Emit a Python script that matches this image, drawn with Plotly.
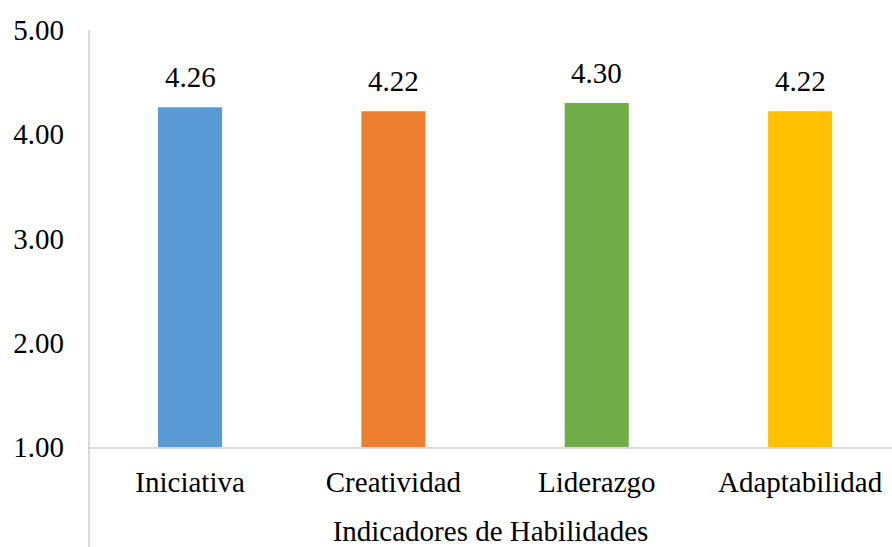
import plotly.graph_objects as go

categories = ["Iniciativa", "Creatividad", "Liderazgo", "Adaptabilidad"]
values = [4.26, 4.22, 4.30, 4.22]
colors = ["#5B9BD5", "#ED7D31", "#70AD47", "#FFC000"]
y_ticks = [1, 2, 3, 4, 5]
x_title = "Indicadores de Habilidades"

FONT = "Liberation Serif"
FS = 29

fig = go.Figure()
fig.add_trace(go.Bar(
    x=list(range(len(categories))),
    y=[v - 1 for v in values],
    base=1,
    width=0.315,
    marker=dict(color=colors, line=dict(width=0)),
    hoverinfo="skip",
))

for i, v in enumerate(values):
    fig.add_annotation(x=i, y=v, text=f"{v:.2f}", showarrow=False,
                       yanchor="bottom", yshift=12,
                       font=dict(family=FONT, size=FS, color="#000000"))

# vertical axis line extending below plot area
fig.add_shape(type="line", xref="paper", yref="paper", x0=0, x1=0, y0=-0.245, y1=1,
              line=dict(color="#D9D9D9", width=2))

fig.update_layout(
    width=892, height=547,
    margin=dict(l=89, r=0, t=30, b=100),
    paper_bgcolor="white", plot_bgcolor="white",
    showlegend=False,
    font=dict(family=FONT, size=FS, color="#000000"),
    xaxis=dict(
        range=[-0.497, 3.452],
        tickmode="array", tickvals=list(range(len(categories))), ticktext=categories,
        showline=True, linecolor="#D9D9D9", linewidth=2,
        showgrid=False, zeroline=False, ticks="",
        ticklabelstandoff=8,
        title=dict(text=x_title, standoff=26, font=dict(family=FONT, size=FS, color="#000000")),
        tickfont=dict(family=FONT, size=FS, color="#000000"),
    ),
    yaxis=dict(
        range=[1, 5],
        tickmode="array", tickvals=y_ticks, ticktext=[f"{t:.2f}" for t in y_ticks],
        showline=False, showgrid=False, zeroline=False, ticks="",
        ticklabelstandoff=24,
        tickfont=dict(family=FONT, size=FS, color="#000000"),
    ),
)

fig.write_html("out.html")
